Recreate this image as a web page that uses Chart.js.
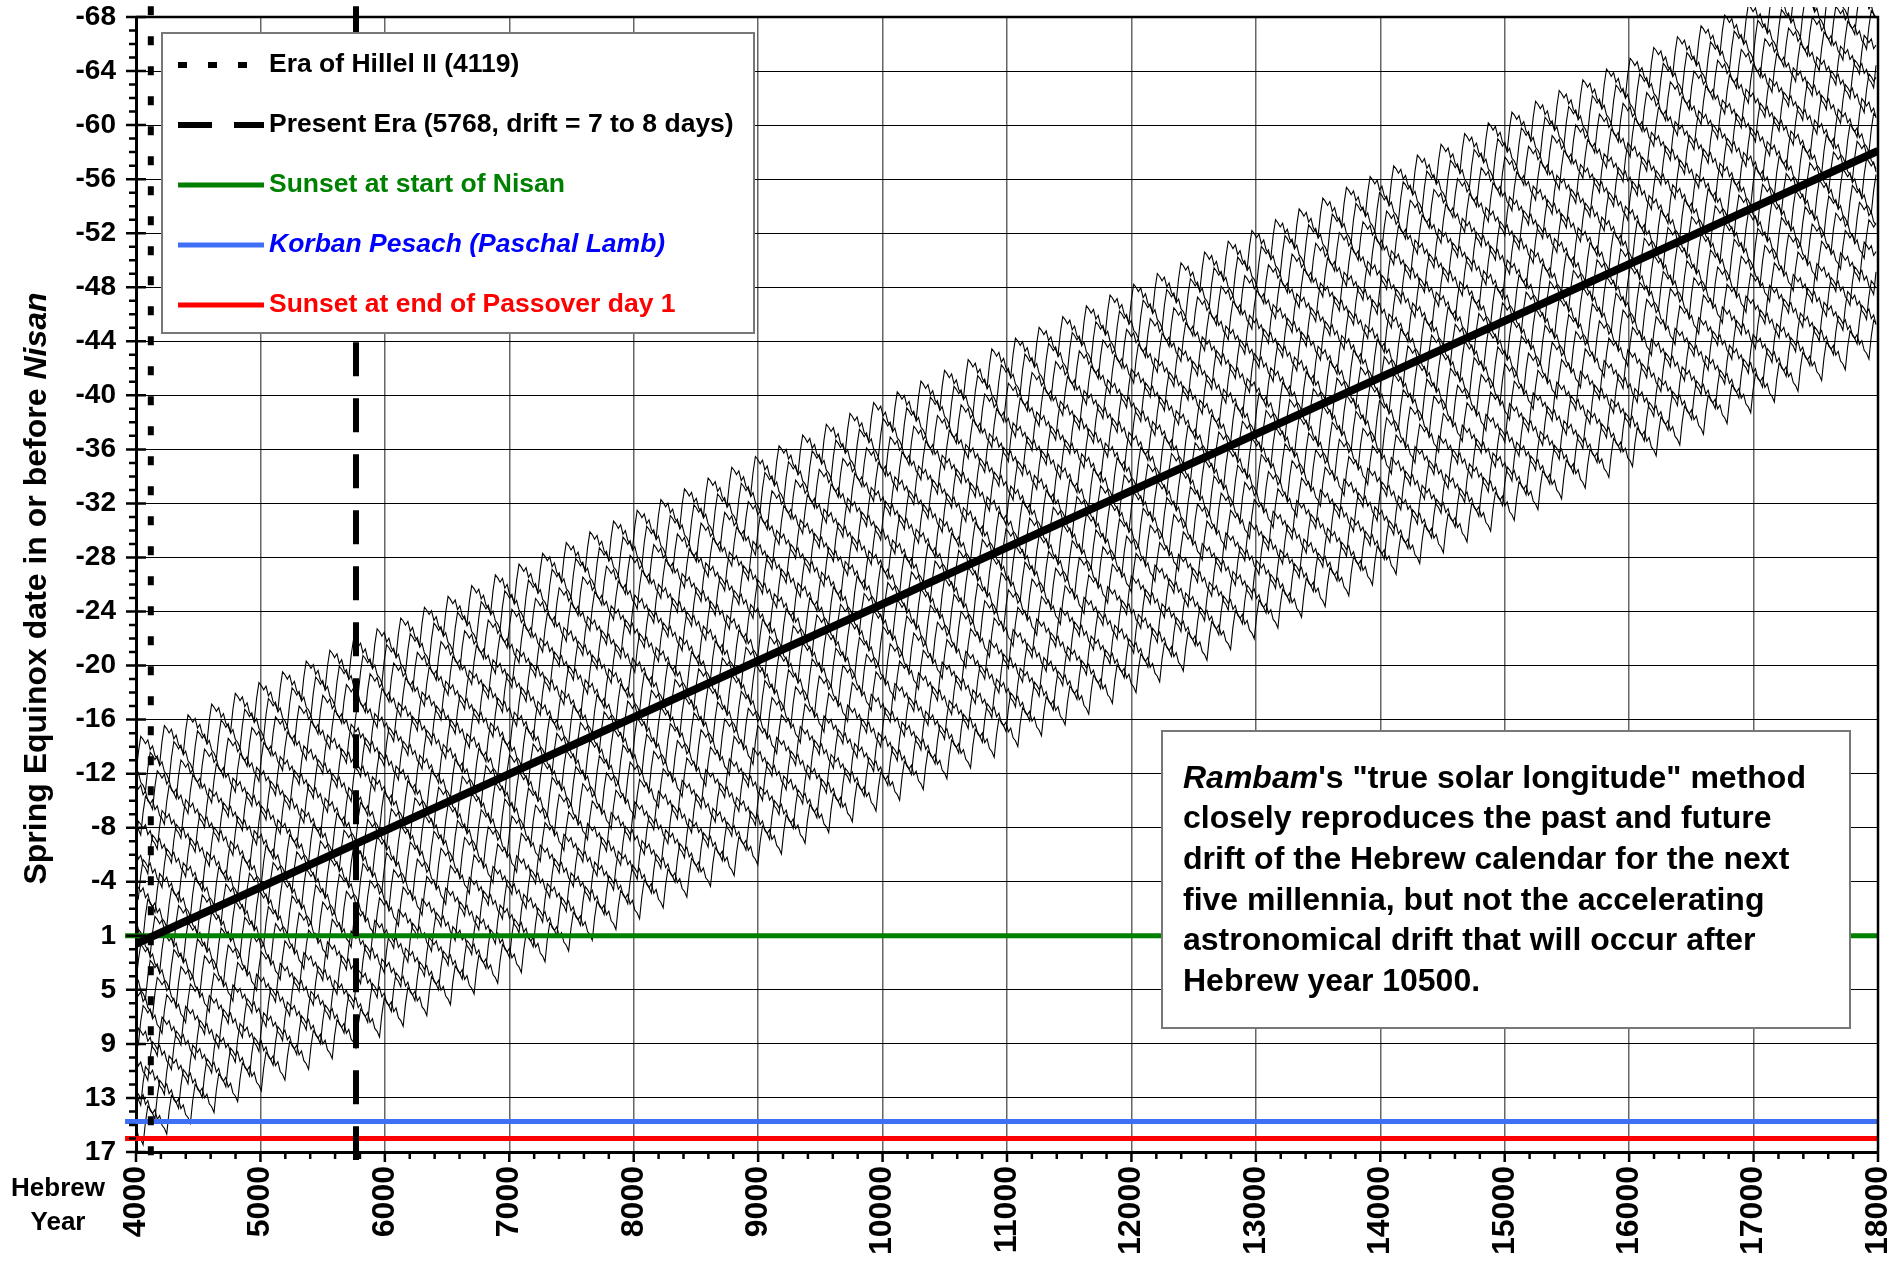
<!DOCTYPE html>
<html>
<head>
<meta charset="utf-8">
<script src="https://cdn.jsdelivr.net/npm/chart.js@4.4.1/dist/chart.umd.min.js"></script>
<style>
  html, body { margin: 0; padding: 0; background: #fff; }
  #wrap { width: 1900px; height: 1262px; }
</style>
</head>
<body>
<div id="wrap"><canvas id="myChart" width="1900" height="1262"></canvas></div>
<script>
// axis ticks (y is stored as days after sunset of 1 Nisan, so "1" sits at 0)
const xTickValues = [4000, 5000, 6000, 7000, 8000, 9000, 10000, 11000, 12000, 13000, 14000, 15000, 16000, 17000, 18000]
const yTickValues = [-68, -64, -60, -56, -52, -48, -44, -40, -36, -32, -28, -24, -20, -16, -12, -8, -4, 0, 4, 8, 12, 16]
const yTickLabels = ['-68', '-64', '-60', '-56', '-52', '-48', '-44', '-40', '-36', '-32', '-28', '-24', '-20', '-16', '-12', '-8', '-4', '1', '5', '9', '13', '17']

// mean drift line (thick black)
const trendYears = [4000, 18000]
const trendDays = [0.6, -58.1]

// era markers
const hillelYear = 4119
const presentYear = 5768
const eraDays = [-68.8, 16.6]

// reference lines
const nisanStartDay = 0
const korbanPesachDay = 13.75
const passoverEndDay = 15
const refYears = [3912, 18000]

// the 19 year-of-cycle curves, one point per 19 years
const cycleStep = 19
const cycleOffsets = [-12.5, -11.0, -9.4, -7.9, -6.3, -4.8, -3.3, -1.7, -0.2, 1.3, 2.9, 4.4, 5.9, 7.5, 9.0, 10.5, 12.1, 13.6, 15.1]
const cyclePhases = [0, 6, 3, 8, 1, 5, 9, 2, 7, 4, 0, 6, 3, 9, 1, 5, 8, 2, 7]
const waveProfile = [0, 1.6, 2.7, 2.4, 2.0, 2.2, 1.4, 1.6, 0.8, 0.5]

const FONT = "'Liberation Sans', Arial, sans-serif"

function trendAt(yr) {
  const t = (yr - trendYears[0]) / (trendYears[1] - trendYears[0])
  return trendDays[0] + t * (trendDays[1] - trendDays[0])
}

const waveSets = []
for (let i = 0; i < cycleOffsets.length; i++) {
  const pts = []
  let k = 0
  for (let yr = trendYears[0]; yr <= trendYears[1]; yr += cycleStep) {
    const w = waveProfile[(k + cyclePhases[i]) % waveProfile.length]
    pts.push({ x: yr, y: trendAt(yr) + cycleOffsets[i] - w })
    k++
  }
  waveSets.push({
    data: pts,
    showLine: true,
    borderColor: '#000',
    borderWidth: 1.1,
    pointRadius: 0,
    order: 10,
    clip: { left: 0, top: 10, right: 0, bottom: 0 }
  })
}

const hillelSet = {
  label: 'Era of Hillel II (4119)',
  data: [{ x: hillelYear, y: eraDays[0] }, { x: hillelYear, y: eraDays[1] }],
  showLine: true, borderColor: '#000', borderWidth: 6, borderDash: [9, 21],
  pointRadius: 0, order: 2, clip: false
}
const presentSet = {
  label: 'Present Era (5768, drift = 7 to 8 days)',
  data: [{ x: presentYear, y: eraDays[0] }, { x: presentYear, y: eraDays[1] }],
  showLine: true, borderColor: '#000', borderWidth: 6, borderDash: [34, 22],
  pointRadius: 0, order: 2, clip: false
}
const nisanSet = {
  label: 'Sunset at start of Nisan',
  data: [{ x: refYears[0], y: nisanStartDay }, { x: refYears[1], y: nisanStartDay }],
  showLine: true, borderColor: '#008000', borderWidth: 5, pointRadius: 0, order: 4, clip: false
}
const korbanSet = {
  label: 'Korban Pesach (Paschal Lamb)',
  data: [{ x: refYears[0], y: korbanPesachDay }, { x: refYears[1], y: korbanPesachDay }],
  showLine: true, borderColor: '#3f6ff5', borderWidth: 5, pointRadius: 0, order: 4, clip: false
}
const passoverSet = {
  label: 'Sunset at end of Passover day 1',
  data: [{ x: refYears[0], y: passoverEndDay }, { x: refYears[1], y: passoverEndDay }],
  showLine: true, borderColor: '#ff0000', borderWidth: 5, pointRadius: 0, order: 4, clip: false
}
const trendSet = {
  data: [{ x: trendYears[0], y: trendDays[0] }, { x: trendYears[1], y: trendDays[1] }],
  showLine: true, borderColor: '#000', borderWidth: 8, pointRadius: 0, order: 1
}

const legendItems = [
  { set: hillelSet, color: '#000', italic: false },
  { set: presentSet, color: '#000', italic: false },
  { set: nisanSet, color: '#008000', italic: false },
  { set: korbanSet, color: '#0000ff', italic: true },
  { set: passoverSet, color: '#ff0000', italic: false }
]

const noteLines = [
  [['Rambam', true], ['\'s "true solar longitude" method', false]],
  [['closely reproduces the past and future', false]],
  [['drift of the Hebrew calendar for the next', false]],
  [['five millennia, but not the accelerating', false]],
  [['astronomical drift that will occur after', false]],
  [['Hebrew year 10500.', false]]
]

const decor = {
  id: 'decor',
  afterDraw(chart) {
    const ctx = chart.ctx
    const a = chart.chartArea
    const xs = chart.scales.x
    const ys = chart.scales.y
    ctx.save()

    // frame top/right
    ctx.strokeStyle = '#000'
    ctx.lineWidth = 2.5
    ctx.beginPath()
    ctx.moveTo(a.left, a.top); ctx.lineTo(a.right, a.top); ctx.lineTo(a.right, a.bottom)
    ctx.stroke()

    // tick marks
    ctx.lineWidth = 2.5
    ctx.beginPath()
    for (let v = xs.min; v <= xs.max; v += 200) {
      const px = xs.getPixelForValue(v)
      const len = (v % 1000 === 0) ? 10 : 7
      ctx.moveTo(px, a.bottom); ctx.lineTo(px, a.bottom + len)
    }
    for (let v = ys.min; v <= ys.max; v += 1) {
      const py = ys.getPixelForValue(v)
      if (yTickValues.includes(v)) {
        ctx.moveTo(a.left - 10, py); ctx.lineTo(a.left + 10, py)
      } else {
        ctx.moveTo(a.left - 7, py); ctx.lineTo(a.left, py)
      }
    }
    ctx.stroke()

    // y title with italic Nisan
    const t1 = 'Spring Equinox date in or before '
    const t2 = 'Nisan'
    ctx.fillStyle = '#000'
    ctx.textBaseline = 'middle'
    ctx.textAlign = 'left'
    ctx.font = 'bold 32px ' + FONT
    const w1 = ctx.measureText(t1).width
    ctx.font = 'italic bold 32px ' + FONT
    const w2 = ctx.measureText(t2).width
    ctx.translate(37, (a.top + a.bottom) / 2 + 4)
    ctx.rotate(-Math.PI / 2)
    ctx.font = 'bold 32px ' + FONT
    ctx.fillText(t1, -(w1 + w2) / 2, 0)
    ctx.font = 'italic bold 32px ' + FONT
    ctx.fillText(t2, -(w1 + w2) / 2 + w1, 0)
    ctx.setTransform(1, 0, 0, 1, 0, 0)

    // x title
    ctx.font = 'bold 26px ' + FONT
    ctx.textAlign = 'center'
    ctx.fillText('Hebrew', 58, 1189)
    ctx.fillText('Year', 58, 1223)

    // legend box
    ctx.fillStyle = '#fff'
    ctx.fillRect(162, 33, 592, 300)
    ctx.strokeStyle = '#777'
    ctx.lineWidth = 2
    ctx.strokeRect(162, 33, 592, 300)
    legendItems.forEach((it, i) => {
      const y = 65 + 60 * i
      ctx.strokeStyle = it.set.borderColor
      ctx.lineWidth = it.set.borderWidth
      ctx.setLineDash(it.set.borderDash || [])
      ctx.beginPath(); ctx.moveTo(178, y); ctx.lineTo(264, y); ctx.stroke()
      ctx.setLineDash([])
      ctx.fillStyle = it.color
      ctx.textAlign = 'left'
      ctx.font = (it.italic ? 'italic ' : '') + 'bold 26.5px ' + FONT
      ctx.fillText(it.set.label, 269, y)
    })

    // note box
    ctx.fillStyle = '#fff'
    ctx.fillRect(1162, 731, 688, 297)
    ctx.strokeStyle = '#777'
    ctx.lineWidth = 2
    ctx.strokeRect(1162, 731, 688, 297)
    ctx.fillStyle = '#000'
    noteLines.forEach((parts, i) => {
      let x = 1183
      const y = 779 + 40.6 * i
      parts.forEach(([txt, ital]) => {
        ctx.font = (ital ? 'italic ' : '') + 'bold 32px ' + FONT
        ctx.fillText(txt, x, y)
        x += ctx.measureText(txt).width
      })
    })
    ctx.restore()
  }
}

new Chart(document.getElementById('myChart'), {
  type: 'scatter',
  data: {
    datasets: [trendSet, hillelSet, presentSet, nisanSet, korbanSet, passoverSet].concat(waveSets)
  },
  options: {
    responsive: false,
    animation: false,
    devicePixelRatio: 1,
    layout: { padding: { top: 17, right: 22, left: 0, bottom: 0 } },
    plugins: { legend: { display: false }, tooltip: { enabled: false } },
    scales: {
      x: {
        type: 'linear', min: 4000, max: 18000,
        afterBuildTicks: s => { s.ticks = xTickValues.map(v => ({ value: v })) },
        afterFit: s => { s.height = 110; s.paddingLeft = 0; s.paddingRight = 0 },
        ticks: {
          autoSkip: false, minRotation: 90, maxRotation: 90, padding: 14,
          color: '#000', font: { family: FONT, size: 32, weight: 'bold' },
          callback: v => String(v)
        },
        grid: { color: '#666', lineWidth: 1.5, drawTicks: false },
        border: { color: '#000', width: 3 }
      },
      y: {
        type: 'linear', min: -68, max: 16, reverse: true,
        afterBuildTicks: s => { s.ticks = yTickValues.map(v => ({ value: v })) },
        afterFit: s => { s.width = 136; s.paddingTop = 0; s.paddingBottom = 0 },
        ticks: {
          autoSkip: false, padding: 20, color: '#000',
          font: { family: FONT, size: 28, weight: 'bold' },
          callback: (v, i) => yTickLabels[i]
        },
        grid: { color: '#000', lineWidth: 1, drawTicks: false },
        border: { color: '#000', width: 3 }
      }
    }
  },
  plugins: [decor]
})
</script>
</body>
</html>
